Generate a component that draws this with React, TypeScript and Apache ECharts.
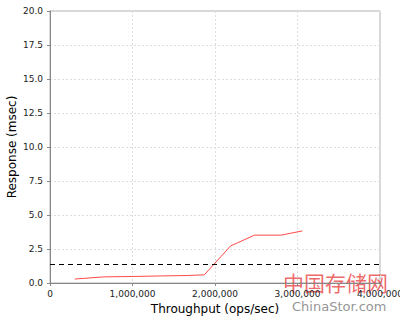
import React, { useEffect, useRef } from "react";
import * as echarts from "echarts";

const throughput = [300000, 650000, 1000000, 1350000, 1650000, 1870000, 2190000, 2480000, 2800000, 3060000];
const responseMs = [0.29, 0.45, 0.48, 0.52, 0.55, 0.6, 2.73, 3.52, 3.52, 3.83];
const thresholdMs = 1.4;
const xTitle = "Throughput (ops/sec)";
const yTitle = "Response (msec)";

export default function App() {
  const ref = useRef<HTMLDivElement>(null);
  useEffect(() => {
    const chart = echarts.init(ref.current!, null, { renderer: "svg" });
    const font = "DejaVu Sans";
    chart.setOption({
      animation: false,
      backgroundColor: "#ffffff",
      textStyle: { fontFamily: font },
      grid: {
        left: 50,
        right: 20,
        top: 11,
        bottom: 37,
        containLabel: false,
        outerBoundsMode: "none",
        show: true,
        borderColor: "#b0b0b0",
        borderWidth: 1,
      },
      xAxis: {
        type: "value",
        min: 0,
        max: 4000000,
        interval: 1000000,
        name: xTitle,
        nameLocation: "middle",
        nameGap: 20,
        nameMoveOverlap: false,
        nameTextStyle: { fontSize: 12, color: "#000", fontFamily: font },
        axisLine: { show: true, lineStyle: { color: "#888888" } },
        axisTick: { show: true, length: 3, lineStyle: { color: "#888888" } },
        axisLabel: {
          fontSize: 9,
          color: "#222",
          margin: 6,
          fontFamily: font,
          formatter: (v: number) => v.toLocaleString("en-US"),
        },
        splitLine: { show: true, lineStyle: { color: "#dddddd", type: [2, 2] } },
      },
      yAxis: {
        type: "value",
        min: 0,
        max: 20,
        interval: 2.5,
        name: yTitle,
        nameLocation: "middle",
        nameGap: 32,
        nameMoveOverlap: false,
        nameTextStyle: { fontSize: 12, color: "#000", fontFamily: font },
        axisLine: { show: true, lineStyle: { color: "#888888" } },
        axisTick: { show: true, length: 3, lineStyle: { color: "#888888" } },
        axisLabel: {
          fontSize: 9,
          color: "#222",
          margin: 7,
          fontFamily: font,
          formatter: (v: number) => v.toFixed(1),
        },
        splitLine: { show: true, lineStyle: { color: "#dddddd", type: [2, 2] } },
      },
      series: [
        {
          type: "line",
          data: throughput.map((x, i) => [x, responseMs[i]]),
          showSymbol: false,
          symbol: "none",
          lineStyle: { color: "#ff4a4a", width: 1 },
          markLine: {
            silent: true,
            symbol: "none",
            label: { show: false },
            lineStyle: { color: "#000", type: [5, 4], width: 1 },
            data: [{ yAxis: thresholdMs }],
          },
        },
      ],
      graphic: [
        {
          type: "text",
          left: 283,
          top: 271,
          style: { text: "中国存储网", fill: "rgba(230,40,40,0.7)", font: "21px 'Noto Sans CJK SC'" },
        },
        {
          type: "text",
          left: 292,
          top: 300,
          style: { text: "ChinaStor.com", fill: "rgba(120,120,120,0.8)", font: "13px 'DejaVu Sans'" },
        },
      ],
    });
    return () => chart.dispose();
  }, []);
  return (
    <div
      ref={ref}
      style={{ position: "fixed", left: 0, top: 0, width: 400, height: 320 }}
    />
  );
}
